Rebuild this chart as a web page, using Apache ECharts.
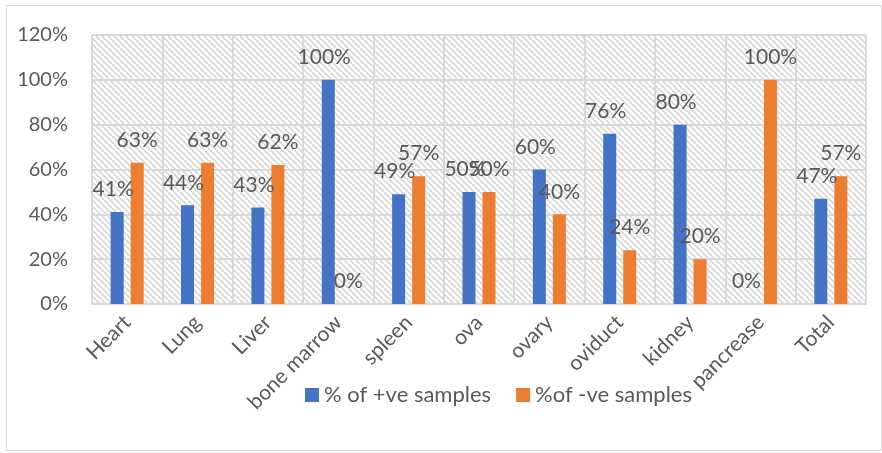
<!DOCTYPE html>
<html>
<head>
<meta charset="utf-8">
<script src="https://cdn.jsdelivr.net/npm/echarts@6/dist/echarts.min.js"></script>
<style>
  html, body { margin: 0; padding: 0; background: #fff; }
  #chart { width: 882px; height: 453px; }
</style>
</head>
<body>
<div id="chart"></div>
<script>
// Sample types and percentages of positive / negative samples
const categories = ['Heart', 'Lung', 'Liver', 'bone marrow', 'spleen', 'ova', 'ovary', 'oviduct', 'kidney', 'pancrease', 'Total'];
const positivePct = [41, 44, 43, 100, 49, 50, 60, 76, 80, 0, 47];
const negativePct = [63, 63, 62, 0, 57, 50, 40, 24, 20, 100, 57];
const seriesNames = ['% of +ve samples', '%of -ve samples'];
const yTicks = [0, 20, 40, 60, 80, 100, 120];

// Light diagonal hatch for the plot background
function hatchPattern() {
  const s = 6;
  const c = document.createElement('canvas');
  c.width = s; c.height = s;
  const g = c.getContext('2d');
  g.fillStyle = '#ffffff';
  g.fillRect(0, 0, s, s);
  g.strokeStyle = '#d6d6d6';
  g.lineWidth = 1.6;
  g.beginPath();
  for (let k = -1; k <= 1; k++) {
    g.moveTo(k * s, 0);
    g.lineTo(k * s + s, s);
  }
  g.stroke();
  return { image: c, repeat: 'repeat' };
}

const FONT = 'Lato';
const TEXT = '#595959';
const GRID = '#d9d9d9';

const chart = echarts.init(document.getElementById('chart'), null, { renderer: 'canvas' });

const labelBase = {
  show: true,
  position: 'top',
  distance: 12,
  fontFamily: FONT,
  fontSize: 21,
  color: TEXT,
  formatter: p => p.value + '%'
};

chart.setOption({
  animation: false,
  backgroundColor: '#ffffff',
  textStyle: { fontFamily: FONT },
  graphic: [{
    type: 'rect',
    shape: { x: 6.5, y: 5.5, width: 875, height: 445 },
    style: { fill: 'none', stroke: GRID, lineWidth: 1 },
    silent: true,
    z: -10
  }],
  grid: {
    left: 92, right: 16, top: 35, bottom: 149,
    show: true,
    backgroundColor: hatchPattern(),
    borderWidth: 0
  },
  legend: {
    bottom: 42,
    left: 300,
    itemWidth: 14,
    itemHeight: 14,
    itemGap: 25,
    icon: 'rect',
    textStyle: { fontFamily: FONT, fontSize: 22, color: TEXT },
    data: seriesNames
  },
  xAxis: {
    type: 'category',
    data: categories,
    boundaryGap: true,
    axisLine: { show: true, lineStyle: { color: GRID, width: 2 } },
    axisTick: { show: false },
    splitLine: { show: true, interval: 0, lineStyle: { color: GRID, width: 2 } },
    axisLabel: {
      interval: 0,
      rotate: 45,
      margin: 15,
      fontFamily: FONT,
      fontSize: 21,
      color: TEXT
    }
  },
  yAxis: {
    type: 'value',
    min: yTicks[0],
    max: yTicks[yTicks.length - 1],
    interval: 20,
    axisLine: { show: false },
    axisTick: { show: false },
    splitLine: { show: true, lineStyle: { color: GRID, width: 2 } },
    axisLabel: {
      margin: 24,
      fontFamily: FONT,
      fontSize: 20,
      color: TEXT,
      formatter: '{value}%'
    }
  },
  series: [
    {
      name: seriesNames[0],
      type: 'bar',
      data: positivePct,
      barWidth: 13,
      barGap: '54%',
      itemStyle: { color: '#4472c4' },
      label: Object.assign({}, labelBase, { offset: [-4, 0] })
    },
    {
      name: seriesNames[1],
      type: 'bar',
      data: negativePct,
      barWidth: 13,
      itemStyle: { color: '#ed7d31' },
      label: Object.assign({}, labelBase)
    }
  ]
});
</script>
</body>
</html>
